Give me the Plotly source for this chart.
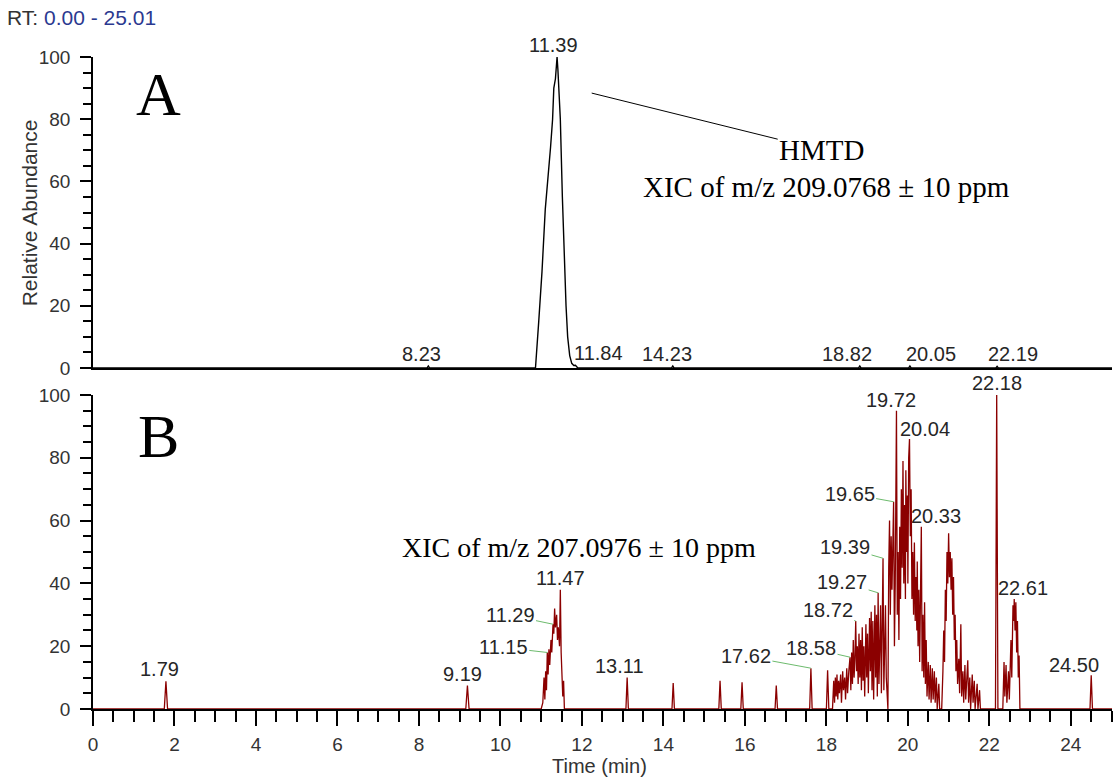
import plotly.graph_objects as go
import numpy as np

# ---------------- data ----------------
# Panel A : XIC of m/z 209.0768 (HMTD)
time_a = [0.00, 8.20, 8.23, 8.26, 10.80, 10.86, 10.94, 11.02, 11.10, 11.18, 11.23, 11.28,
          11.31, 11.35, 11.37, 11.39, 11.41, 11.44, 11.47, 11.52, 11.56, 11.61, 11.65, 11.70,
          11.75, 11.80, 11.84, 11.90, 14.20, 14.23, 14.26, 18.79, 18.82, 18.85, 20.02, 20.05,
          20.08, 22.16, 22.19, 22.22, 25.01]
int_a = [0, 0, 0.6, 0, 0, 0, 15, 31, 51, 62, 71, 80,
         90, 93, 98, 100, 96, 88, 80, 55, 37, 20, 10, 4,
         1.5, 0.8, 0.9, 0, 0, 0.6, 0, 0, 0.6, 0, 0, 0.6,
         0, 0, 0.5, 0, 0]

# Panel B : XIC of m/z 207.0976
time_b = [0.00, 1.75, 1.79, 1.83, 9.15, 9.19, 9.23,
          11.00, 11.04, 11.07, 11.09, 11.11, 11.13, 11.15, 11.17, 11.19, 11.21, 11.24, 11.26,
          11.29, 11.31, 11.33, 11.35, 11.38, 11.40, 11.42, 11.45, 11.47, 11.49, 11.51, 11.53,
          11.55, 11.57,
          13.08, 13.11, 13.14, 14.21, 14.24, 14.27, 15.36, 15.39, 15.42, 15.90, 15.93, 15.96,
          16.74, 16.77, 16.80, 17.59, 17.62, 17.65, 18.00, 18.03, 18.06,
          18.15, 18.18, 18.20, 18.22, 18.24, 18.26, 18.28, 18.30, 18.32, 18.35, 18.37, 18.40,
          18.42, 18.45, 18.47, 18.50, 18.52, 18.55, 18.58, 18.60, 18.62, 18.64, 18.66, 18.68,
          18.70, 18.72, 18.74, 18.76, 18.78, 18.80, 18.82, 18.84, 18.86, 18.88, 18.90, 18.92,
          18.94, 18.97, 18.99, 19.01, 19.03, 19.06, 19.08, 19.10, 19.12, 19.14, 19.16, 19.19,
          19.21, 19.23, 19.25, 19.27, 19.29, 19.31, 19.33, 19.35, 19.37, 19.39, 19.41, 19.43,
          19.45, 19.47, 19.49, 19.51, 19.53, 19.55, 19.57, 19.59, 19.61, 19.63, 19.65, 19.67,
          19.69, 19.72, 19.74, 19.76, 19.78, 19.80, 19.82, 19.84, 19.86, 19.88, 19.90, 19.92,
          19.94, 19.95, 19.97, 19.99, 20.00, 20.02, 20.04, 20.06, 20.08, 20.10, 20.12, 20.14,
          20.16, 20.18, 20.20, 20.22, 20.23, 20.25, 20.27, 20.29, 20.31, 20.33, 20.35, 20.37,
          20.39, 20.41, 20.43, 20.45, 20.47, 20.50, 20.52, 20.55, 20.57, 20.60, 20.62, 20.65,
          20.67, 20.70, 20.72, 20.76, 20.78, 20.83, 20.86, 20.88, 20.90, 20.92, 20.94, 20.96,
          20.98, 21.00, 21.02, 21.04, 21.06, 21.08, 21.10, 21.12, 21.14, 21.16, 21.18, 21.20,
          21.22, 21.25, 21.27, 21.30, 21.32, 21.35, 21.37, 21.40, 21.42, 21.47, 21.49, 21.52,
          21.54, 21.58, 21.60, 21.63, 21.65, 21.70, 21.72, 21.76, 21.78,
          22.15, 22.18, 22.21,
          22.33, 22.36, 22.38, 22.41, 22.43, 22.47, 22.49, 22.53, 22.55, 22.58, 22.60, 22.61,
          22.63, 22.65, 22.67, 22.69, 22.71, 22.73, 22.75,
          24.47, 24.50, 24.53, 25.01]
int_b = [0, 0, 8.8, 0, 0, 7.5, 0,
         0, 2, 10, 3, 12, 6, 18, 11, 19, 14, 22, 18,
         27, 24, 32, 26, 30, 22, 26, 20, 38, 18, 12, 4,
         9, 0,
         0, 10, 0, 0, 8.3, 0, 0, 9, 0, 0, 8.5, 0,
         0, 7.5, 0, 0, 13, 0, 0, 12.3, 0,
         0, 9, 2, 10, 4, 11, 3, 9, 5, 11, 2, 12,
         6, 10, 3, 13, 5, 12, 16.5, 6, 18, 8, 22, 10,
         16, 28, 12, 20, 8, 24, 10, 22, 6, 26, 9, 20,
         4, 27, 10, 24, 5, 29, 12, 31, 6, 28, 3, 33,
         10, 30, 4, 37, 8, 20, 33, 5, 25, 48, 6, 18,
         33, 10, 2, 0, 45, 60, 30, 55, 38, 52, 66, 20,
         40, 95, 30, 50, 22, 58, 35, 70, 45, 79, 40, 65,
         35, 76, 50, 68, 40, 80, 86, 55, 70, 35, 50, 30,
         53, 28, 42, 25, 47, 20, 38, 15, 30, 58, 12, 30,
         10, 34, 8, 22, 4, 15, 3, 14, 2, 13, 3, 12,
         2, 10, 0, 8, 0, 0, 12, 25, 15, 38, 28, 50,
         40, 56, 42, 50, 38, 48, 30, 42, 22, 30, 12, 22,
         8, 16, 5, 27, 4, 12, 2, 14, 3, 15.5, 2, 10,
         0, 11, 2, 9, 0, 8, 0, 6, 0,
         0, 100, 0,
         0, 15, 4, 14, 2, 12, 3, 22, 10, 33, 28, 35,
         25, 34, 18, 28, 10, 17, 0,
         0, 10.7, 0, 0]

# labelled peaks (retention times)
peaks_a = [11.39, 8.23, 11.84, 14.23, 18.82, 20.05, 22.19]
peaks_b = [1.79, 9.19, 11.15, 11.29, 11.47, 13.11, 17.62, 18.58, 18.72, 19.27, 19.39,
           19.65, 19.72, 20.04, 20.33, 22.18, 22.61, 24.50]

x_ticks = [0, 2, 4, 6, 8, 10, 12, 14, 16, 18, 20, 22, 24]
y_ticks = [0, 20, 40, 60, 80, 100]

# ---------------- styling / layout ----------------
label_off_a = [(-4, -12), (-7, -12), (23, -12), (-6, -12), (-13, -12), (21, -12), (16, -12)]
leader_a = [False, False, True, False, True, False, False]
label_off_b = [(-6, -12), (-5, -11), (-44, -5), (-43, -9), (0, -12), (-8, -12), (-65, -12),
               (-39, -9), (-28, -11), (-36, -11), (-38, -11), (-44, -8), (-5, -11), (15, -10),
               (15, -11), (0, -12), (9, -11), (-17, -10)]
leader_b = [False, False, True, True, False, False, True, True, True, True, True, True,
            False, True, True, False, True, True]

SANS = "Liberation Sans, Arial, sans-serif"
SERIF = "Liberation Serif, Times New Roman, serif"
GREEN = "#6dbb6d"
TXT = "#262626"
LBL = 20

fig = go.Figure()
fig.add_trace(go.Scatter(x=time_a, y=int_a, mode="lines", xaxis="x", yaxis="y",
                         line=dict(color="black", width=1.4), hoverinfo="skip",
                         showlegend=False))
fig.add_trace(go.Scatter(x=time_b, y=int_b, mode="lines", xaxis="x2", yaxis="y2",
                         line=dict(color="#8b0000", width=1.3), hoverinfo="skip",
                         showlegend=False))


def peak_height(ts, vals, t):
    ts = np.asarray(ts)
    return vals[int(np.argmin(np.abs(ts - t)))]


annotations = []
for t, (dx, dy), lead in zip(peaks_a, label_off_a, leader_a):
    annotations.append(dict(x=t, y=peak_height(time_a, int_a, t), xref="x", yref="y",
                            text=f"{t:.2f}", showarrow=True, arrowhead=0, arrowwidth=1,
                            arrowcolor=GREEN if lead else "rgba(0,0,0,0)", ax=dx, ay=dy,
                            standoff=0, font=dict(family=SANS, size=LBL, color=TXT)))
for t, (dx, dy), lead in zip(peaks_b, label_off_b, leader_b):
    annotations.append(dict(x=t, y=peak_height(time_b, int_b, t), xref="x2", yref="y2",
                            text=f"{t:.2f}", showarrow=True, arrowhead=0, arrowwidth=1,
                            arrowcolor=GREEN if lead else "rgba(0,0,0,0)", ax=dx, ay=dy,
                            standoff=0, font=dict(family=SANS, size=LBL, color=TXT)))

# panel letters and compound texts
annotations += [
    dict(x=1.6, y=88, xref="x", yref="y", text="A", showarrow=False,
         font=dict(family=SERIF, size=62, color="black")),
    dict(x=1.6, y=87, xref="x2", yref="y2", text="B", showarrow=False,
         font=dict(family=SERIF, size=62, color="black")),
    dict(x=12.24, y=88.4, xref="x", yref="y", text="HMTD", showarrow=True, arrowhead=0,
         arrowwidth=1, arrowcolor="black", ax=230, ay=57, standoff=0,
         font=dict(family=SERIF, size=29, color="black")),
    dict(x=18.0, y=58.2, xref="x", yref="y", text="XIC of m/z 209.0768 ± 10 ppm",
         showarrow=False, font=dict(family=SERIF, size=29, color="black")),
    dict(x=11.92, y=51.3, xref="x2", yref="y2", text="XIC of m/z 207.0976 ± 10 ppm",
         showarrow=False, font=dict(family=SERIF, size=28, color="black")),
    dict(x=-0.0864, y=1.06, xref="paper", yref="paper", xanchor="left", yanchor="middle",
         text="RT: <span style='color:#2b3990'>0.00 - 25.01</span>", showarrow=False,
         font=dict(family=SANS, size=21, color="#333333")),
    dict(x=-0.062, y=0.7615, xref="paper", yref="paper", xanchor="center", yanchor="middle",
         text="Relative Abundance", textangle=-90, showarrow=False,
         font=dict(family=SANS, size=21, color="#333333")),
    dict(x=0.4975, y=-0.0875, xref="paper", yref="paper", xanchor="center", yanchor="middle",
         text="Time (min)", showarrow=False,
         font=dict(family=SANS, size=20, color="#333333")),
]

tickfont = dict(family=SANS, size=19, color="#333333")
yaxis_common = dict(range=[0, 100], tickvals=y_ticks, ticks="outside", ticklen=11,
                    tickwidth=1.5, tickcolor="black", showline=True, linecolor="black",
                    linewidth=1.5, showgrid=False, zeroline=False, tickfont=tickfont,
                    ticklabelstandoff=6, fixedrange=True,
                    minor=dict(dtick=5, ticks="outside", ticklen=8, tickwidth=1.5,
                               tickcolor="black", showgrid=False))

fig.update_layout(
    width=1114, height=780,
    margin=dict(l=93, r=2, t=57, b=71),
    paper_bgcolor="white", plot_bgcolor="white",
    showlegend=False,
    annotations=annotations,
    xaxis=dict(domain=[0, 1], anchor="y", range=[0, 25.01], showticklabels=False,
               ticks="", showline=True, linecolor="black", linewidth=2, showgrid=False,
               zeroline=False),
    yaxis=dict(domain=[0.523, 1], anchor="x", **yaxis_common),
    xaxis2=dict(domain=[0, 1], anchor="y2", range=[0, 25.01], tickvals=x_ticks,
                ticks="outside", ticklen=15, tickwidth=1.5, tickcolor="black",
                showline=True, linecolor="black", linewidth=2, showgrid=False,
                zeroline=False, tickfont=tickfont, ticklabelstandoff=2,
                minor=dict(dtick=0.5, ticks="outside", ticklen=11, tickwidth=1.5,
                           tickcolor="black", showgrid=False)),
    yaxis2=dict(domain=[0, 0.4816], anchor="x2", **yaxis_common),
)

fig.write_html("out.html")
